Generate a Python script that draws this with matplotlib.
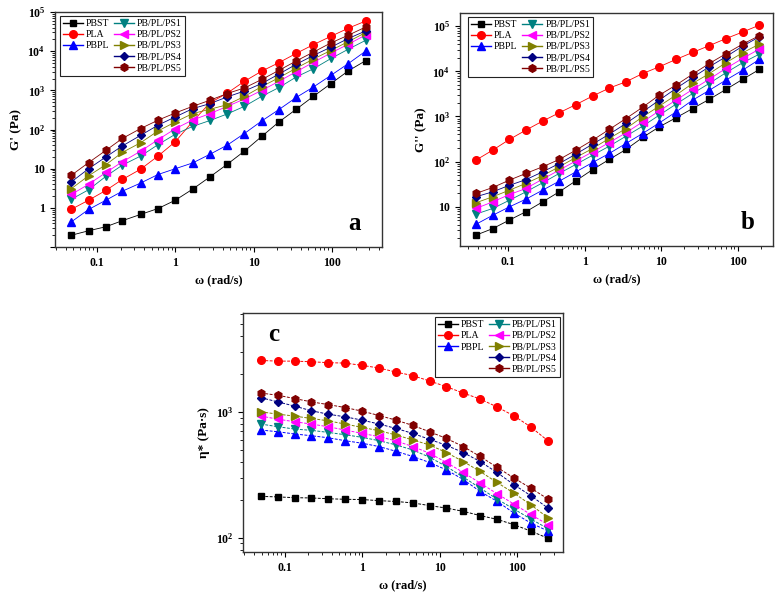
import numpy as np
import matplotlib
matplotlib.use("Agg")
import matplotlib.pyplot as plt
from matplotlib.lines import Line2D
from matplotlib.ticker import FuncFormatter, NullFormatter, LogLocator

plt.rcParams['font.family'] = ['Liberation Serif', 'DejaVu Serif']
plt.rcParams['mathtext.fontset'] = 'custom'
plt.rcParams['mathtext.rm'] = 'Liberation Serif'
plt.rcParams['mathtext.bf'] = 'Liberation Serif:bold'

names = ['PBST', 'PLA', 'PBPL', 'PB/PL/PS1', 'PB/PL/PS2', 'PB/PL/PS3', 'PB/PL/PS4', 'PB/PL/PS5']
colors = ['#000000', '#ff0000', '#0000ff', '#008080', '#ff00ff', '#808000', '#000080', '#800000']
markers = ['s', 'o', '^', 'v', '<', '>', 'D', 'h']
msizes = [5, 5.5, 5.5, 5.5, 5.5, 5.5, 4.5, 5.5]

# panel a : storage modulus G'
freq_a = [0.047, 0.078, 0.13, 0.21, 0.36, 0.6, 1.0, 1.66, 2.77, 4.6, 7.6, 12.7, 21, 35, 58, 97, 161, 270]
gp_pbst = [0.20, 0.26, 0.33, 0.47, 0.68, 0.96, 1.57, 3.0, 6.2, 13, 28, 67, 156, 330, 705, 1490, 3130, 5760]
gp_pla = [0.92, 1.57, 2.8, 5.3, 9.7, 21, 49, 160, 480, 850, 1700, 3100, 5100, 8800, 14700, 24000, 38500, 59000]
gp_pbpl = [0.44, 0.91, 1.57, 2.66, 4.3, 7.1, 10, 14, 23.4, 40, 79, 166, 323, 660, 1220, 2420, 4800, 10100]
gp_ps1 = [1.66, 2.9, 6.4, 12.3, 21, 41, 76, 120, 170, 250, 390, 705, 1180, 2200, 3560, 6500, 11200, 19000]
gp_ps2 = [2.2, 4.0, 8, 15, 28, 55, 105, 175, 255, 390, 600, 1000, 1700, 3000, 5200, 9000, 15000, 26000]
gp_ps3 = [3.1, 6.6, 12.7, 26, 46, 92, 156, 255, 330, 430, 700, 1250, 2100, 3700, 6300, 10500, 17500, 30000]
gp_ps4 = [4.6, 10, 20, 38, 71, 129, 210, 340, 460, 680, 960, 1500, 2600, 4640, 7800, 12700, 21000, 33000]
gp_ps5 = [6.8, 14.3, 29.5, 59, 106, 173, 265, 390, 560, 830, 1150, 1900, 3240, 5640, 9500, 16300, 25500, 41500]

# panel b : loss modulus G''
freq_b = [0.038, 0.063, 0.104, 0.171, 0.282, 0.465, 0.767, 1.27, 2.09, 3.45, 5.69, 9.39, 15.5, 25.6, 42.2, 69.6, 115, 190]
gpp_pbst = [2.36, 3.3, 5.1, 7.8, 12.9, 21.5, 37.7, 67, 112, 186, 343, 590, 935, 1500, 2400, 3970, 6650, 11000]
gpp_pla = [108, 180, 310, 500, 790, 1210, 1830, 2840, 4250, 5860, 8900, 12600, 18300, 26200, 37000, 53000, 74000, 105000]
gpp_pbpl = [4.1, 6.5, 10, 14.8, 23.4, 37, 59.5, 96, 152, 253, 420, 720, 1260, 2300, 3800, 6400, 10600, 18300]
gpp_ps1 = [6.9, 9.2, 14, 21.5, 34, 55, 87, 139, 220, 366, 610, 1070, 1870, 3230, 5400, 9300, 15500, 24000]
gpp_ps2 = [9.2, 12.9, 18.7, 25.5, 41, 65, 104, 165, 265, 435, 760, 1330, 2300, 3970, 6700, 11600, 19300, 31000]
gpp_ps3 = [12.3, 16.7, 23.4, 33, 49, 77, 124, 196, 327, 540, 980, 1700, 2970, 5400, 8900, 15500, 25700, 40000]
gpp_ps4 = [16.7, 21.5, 30, 40, 59.5, 91, 147, 245, 405, 700, 1260, 2300, 4170, 7300, 12600, 21000, 36000, 58000]
gpp_ps5 = [19.8, 26.8, 39, 55, 77, 112, 180, 300, 517, 900, 1600, 2970, 4950, 8650, 14900, 24500, 40000, 61500]

# panel c : complex viscosity
freq_c = [0.049, 0.081, 0.134, 0.22, 0.36, 0.6, 1.0, 1.65, 2.73, 4.5, 7.4, 12.2, 20.2, 33.3, 55, 91, 150, 251]
eta_pbst = [213, 211, 208, 207, 204, 202, 201, 197, 194, 189, 180, 172, 162, 150, 140, 127, 113, 99]
eta_pla = [2560, 2530, 2530, 2500, 2460, 2440, 2340, 2230, 2070, 1940, 1760, 1585, 1410, 1265, 1095, 930, 760, 588]
eta_pbpl = [717, 695, 667, 646, 623, 590, 563, 530, 486, 442, 396, 346, 290, 233, 195, 157, 131, 113]
eta_ps1 = [800, 762, 730, 713, 687, 658, 627, 590, 546, 498, 436, 368, 303, 248, 203, 169, 141, 118]
eta_ps2 = [925, 875, 834, 800, 762, 717, 674, 635, 587, 530, 469, 396, 330, 272, 224, 185, 153, 127]
eta_ps3 = [1000, 959, 925, 886, 849, 800, 752, 708, 655, 598, 546, 475, 403, 336, 275, 226, 183, 144]
eta_ps4 = [1297, 1200, 1110, 1020, 959, 913, 859, 800, 738, 674, 605, 542, 475, 403, 330, 264, 216, 172]
eta_ps5 = [1410, 1355, 1275, 1200, 1143, 1082, 1012, 935, 859, 780, 695, 615, 530, 442, 363, 298, 248, 203]

gp = [gp_pbst, gp_pla, gp_pbpl, gp_ps1, gp_ps2, gp_ps3, gp_ps4, gp_ps5]
gpp = [gpp_pbst, gpp_pla, gpp_pbpl, gpp_ps1, gpp_ps2, gpp_ps3, gpp_ps4, gpp_ps5]
eta = [eta_pbst, eta_pla, eta_pbpl, eta_ps1, eta_ps2, eta_ps3, eta_ps4, eta_ps5]


def yfmt(v, pos):
    e = int(round(np.log10(v)))
    if e >= 2:
        return r'$\mathbf{10^{%d}}$' % e
    if e < 0:
        return ''
    return '%d' % v


def xfmt(v, pos):
    return '%g' % v


def make_legend(ax, loc, anchor):
    handles = [Line2D([], [], color=c, marker=m, markersize=s, lw=1) for c, m, s in zip(colors, markers, msizes)]
    blank = Line2D([], [], color='none', marker=None)
    h = handles[:3] + [blank, blank] + handles[3:]
    l = names[:3] + ['', ''] + names[3:]
    leg = ax.legend(h, l, ncol=2, loc=loc, bbox_to_anchor=anchor, fontsize=7,
                    handlelength=2.0, handletextpad=0.35, columnspacing=0.5,
                    labelspacing=0.22, borderpad=0.3, borderaxespad=0.2,
                    fancybox=False, framealpha=1)
    leg.get_frame().set_edgecolor('#222222')
    leg.get_frame().set_linewidth(0.8)


def style(ax, ylabel):
    ax.set_xscale('log')
    ax.set_yscale('log')
    ax.xaxis.set_major_formatter(FuncFormatter(xfmt))
    ax.yaxis.set_major_formatter(FuncFormatter(yfmt))
    ax.xaxis.set_minor_formatter(NullFormatter())
    ax.yaxis.set_minor_formatter(NullFormatter())
    ax.yaxis.set_minor_locator(LogLocator(base=10, subs=np.arange(2, 10), numticks=20))
    ax.xaxis.set_minor_locator(LogLocator(base=10, subs=np.arange(2, 10), numticks=20))
    ax.tick_params(which='both', direction='out', top=False, right=False, labelsize=8.5)
    ax.tick_params(which='major', length=3.5, width=0.8)
    ax.tick_params(which='minor', length=2, width=0.6)
    for lab in ax.get_xticklabels() + ax.get_yticklabels():
        lab.set_fontweight('bold')
    for s in ax.spines.values():
        s.set_color('#333333')
        s.set_linewidth(1.0)
    ax.set_xlabel(u'ω (rad/s)', fontsize=9, fontweight='bold', labelpad=4)
    ax.set_ylabel(ylabel, fontsize=9.5, fontweight='bold', labelpad=4)


fig = plt.figure(figsize=(7.83, 6.0), dpi=100)

ax1 = fig.add_axes([0.0702, 0.5883, 0.4177, 0.3917])
for i in range(8):
    ax1.plot(freq_a, gp[i], color=colors[i], marker=markers[i], markersize=msizes[i], lw=0.6)
ax1.set_xlim(0.029, 435)
ax1.set_ylim(0.1, 1e5)
style(ax1, "G' (Pa)")
make_legend(ax1, 'upper left', (0.01, 0.99))
ax1.text(0.915, 0.1, 'a', transform=ax1.transAxes, fontsize=18, fontweight='bold', ha='center', va='center')

ax2 = fig.add_axes([0.5875, 0.59, 0.3997, 0.3883])
for i in range(8):
    ax2.plot(freq_b, gpp[i], color=colors[i], marker=markers[i], markersize=msizes[i], lw=0.6)
ax2.set_xlim(0.0236, 286)
ax2.set_ylim(1.36, 1.95e5)
style(ax2, "G'' (Pa)")
make_legend(ax2, 'upper left', (0.02, 0.99))
ax2.text(0.92, 0.1, 'b', transform=ax2.transAxes, fontsize=18, fontweight='bold', ha='center', va='center')

ax3 = fig.add_axes([0.3103, 0.08, 0.4087, 0.3983])
for i in range(8):
    ax3.plot(freq_c, eta[i], color=colors[i], marker=markers[i], markersize=msizes[i], lw=0.7, ls=(0, (3, 1.5)))
ax3.set_xlim(0.0287, 392)
ax3.set_ylim(77, 6100)
style(ax3, u'η* (Pa·s)')
make_legend(ax3, 'upper right', (0.997, 0.99))
ax3.text(0.095, 0.91, 'c', transform=ax3.transAxes, fontsize=18, fontweight='bold', ha='center', va='center')

fig.savefig('out.png', dpi=100)
